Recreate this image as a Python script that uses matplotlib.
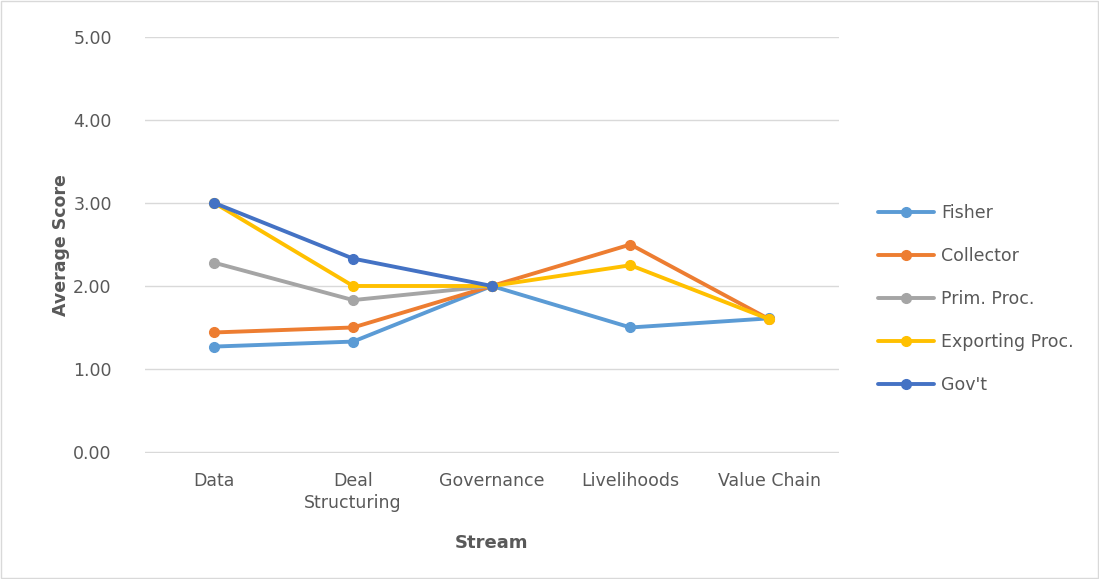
import numpy as np
import matplotlib.pyplot as plt

streams = ['Data', 'Deal\nStructuring', 'Governance', 'Livelihoods', 'Value Chain']
fisher = [1.27, 1.33, 2.00, 1.50, 1.61]
collector = [1.44, 1.50, 2.00, 2.50, 1.60]
prim_proc = [2.28, 1.83, 2.00, np.nan, np.nan]
exporting = [3.00, 2.00, 2.00, 2.25, 1.60]
govt = [3.00, 2.33, 2.00, np.nan, np.nan]

names = ['Fisher', 'Collector', 'Prim. Proc.', 'Exporting Proc.', "Gov't"]
colors = ['#5B9BD5', '#ED7D31', '#A5A5A5', '#FFC000', '#4472C4']

plt.rcParams['font.family'] = ['DejaVu Sans']

fig = plt.figure(figsize=(10.99, 5.79), dpi=100)
ax = fig.add_axes([0.132, 0.218, 0.631, 0.718])

x = np.arange(len(streams))
for vals, name, c in zip([fisher, collector, prim_proc, exporting, govt], names, colors):
    ax.plot(x, vals, color=c, lw=2.8, marker='o', ms=7, label=name, solid_capstyle='round')

ax.set_xlim(-0.5, 4.5)
ax.set_ylim(-0.01, 5)
ax.set_yticks(np.arange(0, 5.01, 1))
ax.set_yticklabels([f'{v:.2f}' for v in np.arange(0, 5.01, 1)], color='#595959', fontsize=12.5)
ax.set_xticks(x)
ax.set_xticklabels(streams, color='#595959', fontsize=12.5, linespacing=1.25)
ax.tick_params(axis='x', length=0, pad=14)
ax.tick_params(axis='y', length=0, pad=24)
ax.grid(axis='y', color='#D9D9D9', lw=1)
ax.set_axisbelow(True)
for s in ax.spines.values():
    s.set_visible(False)

ax.set_ylabel('Average Score', fontsize=12.5, fontweight='bold', color='#595959', labelpad=2)
ax.set_xlabel('Stream', fontsize=13, fontweight='bold', color='#595959', labelpad=16)

leg = ax.legend(loc='center left', bbox_to_anchor=(1.035, 0.37), frameon=False,
                fontsize=12.5, labelspacing=1.45, handlelength=3.2, handletextpad=0.4)
for t in leg.get_texts():
    t.set_color('#595959')

fig.patches.append(plt.Rectangle((0.001, 0.001), 0.998, 0.998, transform=fig.transFigure,
                                 fill=False, edgecolor='#D9D9D9', lw=1))

fig.savefig('out.png', dpi=100)
